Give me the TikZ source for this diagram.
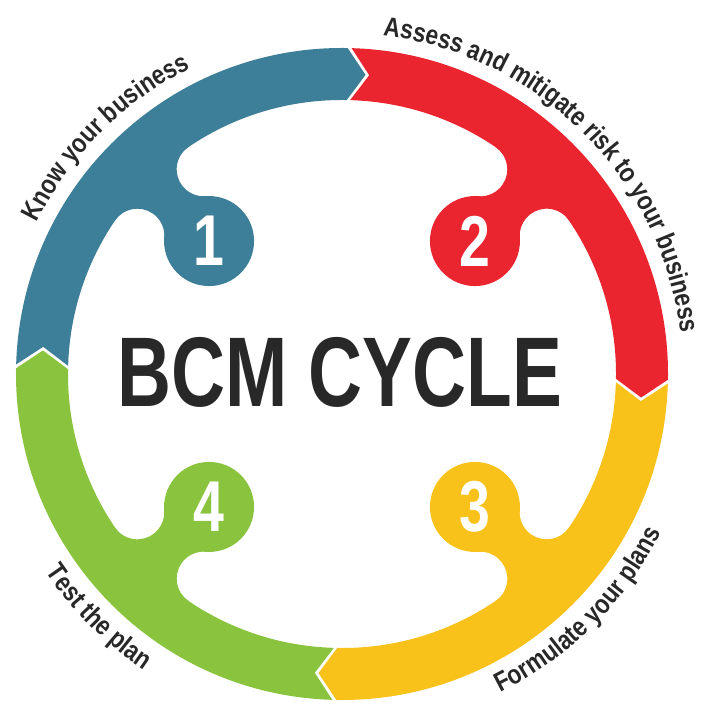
\documentclass[tikz,border=0pt]{standalone}
\usepackage{fontspec}
\usetikzlibrary{decorations.text}
\newfontfamily\titlefam[FakeStretch=0.755]{Liberation Sans}
\newfontfamily\digitfam[FakeStretch=0.77]{Liberation Sans}
\newfontfamily\labelfam[FakeStretch=0.84]{Liberation Sans}
\definecolor{bcmblue}{HTML}{3D7E99}
\definecolor{bcmred}{HTML}{EA2530}
\definecolor{bcmyellow}{HTML}{F8C21A}
\definecolor{bcmgreen}{HTML}{8AC43F}
\definecolor{bcmtext}{HTML}{282828}
\begin{document}
\begin{tikzpicture}[x=1bp,y=1bp,
  number/.style={text=white,inner sep=0pt,font=\digitfam\bfseries\fontsize{72bp}{72bp}\selectfont},
  ringlabel/.style={decorate,decoration={text along path,text align=center,
    text={|\labelfam\bfseries\fontsize{27bp}{27bp}\selectfont\color{bcmtext}|#1}}},
  bcmpart/.pic={
    % band with arrow head and notch
    \path[pic actions] (43.3:326) arc[start angle=43.3, end angle=-46, radius=326]
      -- (-49.5:300) -- (-46:274) arc[start angle=-46, end angle=43.3, radius=274]
      -- (39.8:300) -- cycle;
    % neck
    \path[pic actions] (188,0) -- (222.06,-29.31) arc[start angle=139.3, end angle=-10.95, radius=27]
      -- (-10.95:300) -- (10.95:300) -- (10.95:274) arc[start angle=370.95, end angle=220.7, radius=27]
      -- cycle;
    % knob
    \path[pic actions] (188,0) circle[radius=45];
  }]
\useasboundingbox (-342,-330) rectangle (359,374);

\pic[rotate=135,fill=bcmblue]   {bcmpart};
\pic[rotate=45,fill=bcmred]     {bcmpart};
\pic[rotate=-45,fill=bcmyellow] {bcmpart};
\pic[rotate=-135,fill=bcmgreen] {bcmpart};

\node (one)   at (135:188)  [number] {1};
\node (two)   at (45:188)   [number] {2};
\node (three) at (-45:188)  [number] {3};
\node (four)  at (-135:188) [number] {4};

\node (title) at (-2,1.5) [inner sep=0pt,text=bcmtext,font=\titlefam\bfseries\fontsize{99bp}{99bp}\selectfont] {BCM CYCLE};

\path[ringlabel={Know your business}] (195:341) arc[start angle=195, end angle=75, radius=341];
\path[ringlabel={Assess and mitigate risk to your business}] (105:341) arc[start angle=105, end angle=-15, radius=341];
\path[ringlabel={Formulate your plans}] (-105:356) arc[start angle=-105, end angle=15, radius=356];
\path[ringlabel={Test the plan}] (165:356) arc[start angle=165, end angle=285, radius=356];
\end{tikzpicture}
\end{document}
